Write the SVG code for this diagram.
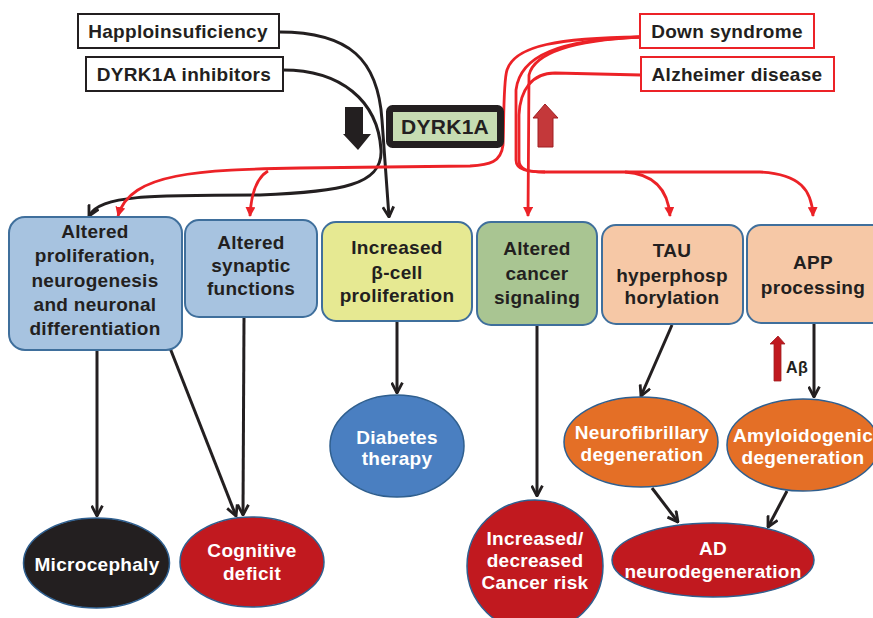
<svg xmlns="http://www.w3.org/2000/svg" width="873" height="618" viewBox="0 0 873 618">
<defs>
<style>
.t{font-family:"Liberation Sans",Arial,sans-serif;font-weight:bold;font-size:19px;letter-spacing:0.3px;text-anchor:middle;fill:#231f20}
.w{fill:#ffffff}
.box{stroke:#3f6f9c;stroke-width:2}
.ell{stroke:#2f5f8f;stroke-width:1.5}
.src{fill:#ffffff;stroke-width:2}
.bl{fill:none;stroke:#231f20;stroke-width:3}
.rd{fill:none;stroke:#ec2227;stroke-width:2.8}
</style>
<marker id="ab" viewBox="0 0 12 12" refX="11" refY="6" markerWidth="13" markerHeight="13" orient="auto" markerUnits="userSpaceOnUse">
<path d="M1.5,1 L11,6 L1.5,11" fill="none" stroke="#231f20" stroke-width="2.6"/>
</marker>
<marker id="ar" viewBox="0 0 10 10" refX="9" refY="5" markerWidth="10" markerHeight="10" orient="auto" markerUnits="userSpaceOnUse">
<path d="M0,0 L10,5 L0,10 z" fill="#ec2227"/>
</marker>
</defs>
<rect width="873" height="618" fill="#ffffff"/>

<g id="connectors">
<path class="bl" d="M279,32 C350,32 378,60 382,120 L389,217" marker-end="url(#ab)"/>
<path class="bl" d="M283,70 C340,70 378,100 381,150 C383,185 340,192 260,195 C150,195 100,195 89,216" marker-end="url(#ab)"/>
<path class="rd" d="M640,37 C560,38 515,45 507,70 C503,82 504,130 503,145 C501,162 490,165 470,166 L300,168 C200,170 130,172 118,216" marker-end="url(#ar)"/>
<path class="rd" d="M268,171 C256,178 251,195 250,216" marker-end="url(#ar)"/>
<path class="rd" d="M640,37 C560,40 520,55 516,90 L516,160 C516,170 528,172 545,172 L760,172 C800,174 812,190 813,216" marker-end="url(#ar)"/>
<path class="rd" d="M625,172 C655,174 668,190 670,216" marker-end="url(#ar)"/>
<path class="rd" d="M640,37 C580,40 535,50 529,75 L528,216" marker-end="url(#ar)"/>
<path class="rd" d="M641,75 L555,73 C532,73 520,90 519,115 L519,160 C519,170 528,172 545,172"/>
<path class="bl" d="M97,350 L97,516" marker-end="url(#ab)"/>
<path class="bl" d="M170,348 L236,516" marker-end="url(#ab)"/>
<path class="bl" d="M244,317 L243,515" marker-end="url(#ab)"/>
<path class="bl" d="M397,321 L397,393" marker-end="url(#ab)"/>
<path class="bl" d="M537,325 L537,496" marker-end="url(#ab)"/>
<path class="bl" d="M672,325 L641,396" marker-end="url(#ab)"/>
<path class="bl" d="M814,323 L814,397" marker-end="url(#ab)"/>
<path class="bl" d="M652,488 L678,522" marker-end="url(#ab)"/>
<path class="bl" d="M787,491 L768,527" marker-end="url(#ab)"/>
</g>

<g id="down-arrow">
<polygon points="345,107 363,107 363,134 371,134 358,150 343,134 345,134" fill="#231f20"/>
</g>
<g id="up-arrow">
<polygon points="545,104 558,118 553,118 553,147 538,147 538,118 533,118" fill="#c4383a" stroke="#a11e22" stroke-width="1"/>
</g>

<g id="happlo">
<rect class="src" x="78" y="14" width="201" height="34" stroke="#231f20"/>
<text class="t" x="178" y="38">Happloinsuficiency</text>
</g>
<g id="inhibitors">
<rect class="src" x="86" y="57" width="197" height="34" stroke="#231f20"/>
<text class="t" x="184" y="81">DYRK1A inhibitors</text>
</g>
<g id="down-syndrome">
<rect class="src" x="640" y="14" width="174" height="34" stroke="#ec2227"/>
<text class="t" x="727" y="38">Down syndrome</text>
</g>
<g id="alzheimer">
<rect class="src" x="641" y="57" width="193" height="34" stroke="#ec2227"/>
<text class="t" x="737" y="81">Alzheimer disease</text>
</g>
<g id="dyrk1a">
<rect x="389.5" y="108.5" width="111" height="36" rx="3" fill="#c6dcb2" stroke="#231f20" stroke-width="7"/>
<text class="t" x="445" y="134" style="font-size:21px">DYRK1A</text>
</g>

<g id="box-prolif">
<rect class="box" x="9" y="217" width="173" height="133" rx="16" fill="#a7c3e0"/>
<text class="t" x="95" y="238">Altered</text>
<text class="t" x="95" y="262">proliferation,</text>
<text class="t" x="95" y="287">neurogenesis</text>
<text class="t" x="95" y="311">and neuronal</text>
<text class="t" x="95" y="335">differentiation</text>
</g>
<g id="box-synaptic">
<rect class="box" x="185" y="220" width="132" height="97" rx="14" fill="#a7c3e0"/>
<text class="t" x="251" y="249">Altered</text>
<text class="t" x="251" y="272">synaptic</text>
<text class="t" x="251" y="295">functions</text>
</g>
<g id="box-beta">
<rect class="box" x="322" y="222" width="150" height="99" rx="14" fill="#e6e992"/>
<text class="t" x="397" y="254">Increased</text>
<text class="t" x="397" y="279">β-cell</text>
<text class="t" x="397" y="302">proliferation</text>
</g>
<g id="box-cancer">
<rect class="box" x="477" y="222" width="120" height="103" rx="14" fill="#a9c592"/>
<text class="t" x="537" y="255">Altered</text>
<text class="t" x="537" y="280">cancer</text>
<text class="t" x="537" y="304">signaling</text>
</g>
<g id="box-tau">
<rect class="box" x="602" y="225" width="141" height="99" rx="14" fill="#f6c8a6"/>
<text class="t" x="672" y="257">TAU</text>
<text class="t" x="672" y="282">hyperphosp</text>
<text class="t" x="672" y="304">horylation</text>
</g>
<g id="box-app">
<rect class="box" x="747" y="225" width="140" height="98" rx="14" fill="#f6c8a6"/>
<text class="t" x="813" y="269">APP</text>
<text class="t" x="813" y="294">processing</text>
</g>

<g id="abeta">
<polygon points="778,336 785,344 781,344 781,381 774,381 774,344 770,344" fill="#c0191f" stroke="#a11e22" stroke-width="0.8"/>
<text class="t" x="797" y="373" style="font-size:16px">Aβ</text>
</g>

<g id="microcephaly">
<ellipse class="ell" cx="96.5" cy="563" rx="73" ry="45" fill="#231f20"/>
<text class="t w" x="97" y="571">Microcephaly</text>
</g>
<g id="cognitive">
<ellipse class="ell" cx="252" cy="562" rx="72" ry="45" fill="#c1191f"/>
<text class="t w" x="252" y="557">Cognitive</text>
<text class="t w" x="252" y="580">deficit</text>
</g>
<g id="diabetes">
<ellipse class="ell" cx="397" cy="446" rx="67" ry="51" fill="#4a7fc1"/>
<text class="t w" x="397" y="444">Diabetes</text>
<text class="t w" x="397" y="465">therapy</text>
</g>
<g id="cancer-risk">
<ellipse class="ell" cx="535" cy="566" rx="68" ry="66" fill="#c1191f"/>
<text class="t w" x="535" y="545">Increased/</text>
<text class="t w" x="535" y="567">decreased</text>
<text class="t w" x="535" y="589">Cancer risk</text>
</g>
<g id="neurofibrillary">
<ellipse class="ell" cx="641" cy="442" rx="77" ry="45" fill="#e46f26"/>
<text class="t w" x="642" y="439">Neurofibrillary</text>
<text class="t w" x="642" y="461">degeneration</text>
</g>
<g id="amyloidogenic">
<ellipse class="ell" cx="803" cy="445" rx="76" ry="46" fill="#e46f26"/>
<text class="t w" x="803" y="442">Amyloidogenic</text>
<text class="t w" x="803" y="464">degeneration</text>
</g>
<g id="ad">
<ellipse class="ell" cx="713" cy="560" rx="101" ry="37" fill="#c1191f"/>
<text class="t w" x="713" y="555">AD</text>
<text class="t w" x="713" y="578">neurodegeneration</text>
</g>
</svg>
